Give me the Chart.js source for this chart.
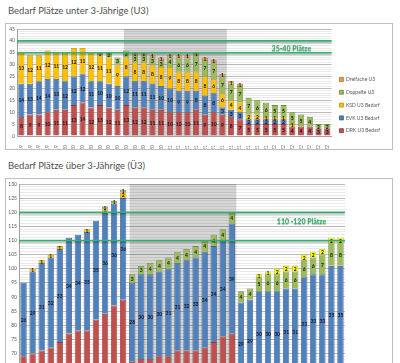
<!DOCTYPE html>
<html>
<head>
<meta charset="utf-8">
<script src="https://cdn.jsdelivr.net/npm/chart.js@4.4.0/dist/chart.umd.min.js"></script>
<style>
html, body { margin: 0; padding: 0; background: #fff; width: 400px; height: 363px; overflow: hidden; font-family: Lato, "Liberation Sans", sans-serif; }
.title { position: absolute; left: 8px; font-size: 9.5px; color: #505050; white-space: nowrap; }
.box { position: absolute; left: 5px; width: 388px; border: 1px solid #bfbfbf; box-sizing: border-box; background: #fff; }
.box canvas { display: block; }
</style>
</head>
<body>
<div class="title" style="top:5px">Bedarf Plätze unter 3-Jährige (U3)</div>
<div class="box" style="top:23px;height:127px"><canvas id="u3" width="386" height="125"></canvas></div>
<div class="title" style="top:160px">Bedarf Plätze über 3-Jährige (Ü3)</div>
<div class="box" style="top:178px;height:400px"><canvas id="ue3" width="386" height="385"></canvas></div>
<script>
const months = ['Aug 19','Sep 19','Okt 19','Nov 19','Dez 19','Jan 20','Feb 20','Mrz 20','Apr 20','Mai 20','Jun 20','Jul 20',
    'Aug 20','Sep 20','Okt 20','Nov 20','Dez 20','Jan 21','Feb 21','Mrz 21','Apr 21','Mai 21','Jun 21','Jul 21',
    'Aug 21','Sep 21','Okt 21','Nov 21','Dez 21','Jan 22','Feb 22','Mrz 22','Apr 22','Mai 22','Jun 22','Jul 22'];

// U3
const u3Drk      = [8,9,9,10,11,11,13,14,12,13,12,11, 13,12,12,11,11,10,10,10,11,9,10,9, 8,7,5,5,5,5,5,4,4,4,3,3];
const u3Evk      = [14,13,14,14,13,12,12,12,11,10,10,10, 12,11,11,11,10,10,9,9,8,8,8,3, 3,3,2,2,2,2,2,0,0,0,0,0];
const u3Ksd      = [13,12,11,12,11,12,12,11,12,11,11,9, 8,8,8,8,8,9,8,8,8,8,6,6, 4,4,2,2,1,1,1,1,0,0,0,0];
const u3Doppelt  = [0,0,0,0,0,0,0,0,0,1,2,3, 3,3,3,3,3,4,6,6,7,7,7,7, 7,7,7,6,6,5,5,5,5,4,2,2];
const u3Dreifach = [0,0,0,0,0,0,0,0,0,0,0,0, 0,1,1,1,1,1,1,1,1,1,1,1, 1,1,0,0,0,0,0,0,0,0,0,0];
const u3Ticks = [0,5,10,15,20,25,30,35,40,45];

// Ü3
const ue3Drk      = [69,70,71,72,74,77,78,78,82,84,87,89, 67,68,68,69,69,71,71,71,72,74,76,77, 59,60,62,62,62,62,62,64,65,65,66,66];
const ue3Evk      = [26,29,31,32,33,34,34,35,35,36,36,36, 28,30,30,30,31,31,32,33,34,34,34,39, 29,29,30,30,30,31,31,33,33,33,35,35];
const ue3Ksd      = [0,1,1,1,1,0,0,1,0,1,0,2, 0,0,0,0,0,0,0,0,0,0,0,0, 0,0,0,0,0,0,0,0,0,0,0,0];
const ue3Doppelt  = [0,0,0,0,0,0,0,0,0,1,1,1, 3,3,4,4,4,4,4,4,4,4,4,4, 4,4,5,6,6,6,6,6,6,7,8,8];
const ue3Dreifach = [0,0,0,0,0,0,0,0,0,0,0,0, 0,0,0,0,0,0,0,0,0,0,0,0, 0,0,1,1,2,2,2,2,2,2,2,2];
const ue3Ticks = [70,75,80,85,90,95,100,105,110,115,120,125,130];

const font = 'Lato, "Liberation Sans", sans-serif';
const green = '#2fb36c';

function bars(label, data, color, border) {
    return { label: label, data: data, backgroundColor: color, borderColor: border, borderWidth: 0.8,
             categoryPercentage: 1, barPercentage: 0.7 };
}

// gray band, target lines and values inside the segments
const extrasPlugin = {
    id: 'extras',
    afterLayout(chart, args, opts) {
        // nudge the legend a little lower, like the Excel original
        if (chart.legend && opts.legendShift) {
            chart.legend.top += opts.legendShift;
            chart.legend.bottom += opts.legendShift;
        }
    },
    beforeDatasetsDraw(chart, args, opts) {
        const { ctx, chartArea: a, scales: { x } } = chart;
        const half = (x.getPixelForValue(1) - x.getPixelForValue(0)) / 2;
        const x0 = x.getPixelForValue(opts.from) - half + 2;
        const x1 = x.getPixelForValue(opts.to) + half;
        ctx.save();
        ctx.fillStyle = 'rgba(0,0,0,0.16)';
        ctx.fillRect(x0, a.top, x1 - x0, a.bottom - a.top);
        ctx.restore();
    },
    afterDatasetsDraw(chart, args, opts) {
        const { ctx, chartArea: a, scales: { x, y } } = chart;
        ctx.save();
        ctx.font = 'bold 5px ' + font;
        ctx.fillStyle = '#16161f';
        ctx.textAlign = 'center';
        ctx.textBaseline = 'middle';
        chart.data.datasets.forEach((ds, i) => {
            chart.getDatasetMeta(i).data.forEach((bar, j) => {
                const v = ds.data[j];
                if (!v) return;
                const p = bar.getProps(['x', 'y', 'base'], true);
                ctx.fillText(v, p.x, (p.y + p.base) / 2 + 0.5);
            });
        });
        ctx.shadowColor = 'rgba(0,0,0,0.35)';
        ctx.shadowOffsetY = 1.5;
        ctx.shadowBlur = 1.5;
        ctx.strokeStyle = green;
        ctx.lineWidth = 1.6;
        opts.lines.forEach(v => {
            const py = y.getPixelForValue(v);
            ctx.beginPath();
            ctx.moveTo(a.left, py);
            ctx.lineTo(a.right, py);
            ctx.stroke();
        });
        ctx.shadowOffsetY = 0.8;
        ctx.shadowBlur = 1;
        ctx.font = 'bold 7px ' + font;
        ctx.fillStyle = green;
        ctx.fillText(opts.text, x.getPixelForValue(opts.textX), y.getPixelForValue(opts.textY));
        ctx.restore();
    }
};

function axes(min, max, ticks, yWidth) {
    return {
        x: {
            stacked: true,
            afterFit: s => { s.height = 13; },
            grid: { display: false },
            border: { color: '#a0a0a0' },
            ticks: { autoSkip: false, maxRotation: 90, minRotation: 90, padding: 1, color: '#6a6a6a', font: { size: 5, family: font } }
        },
        y: {
            stacked: true, min: min, max: max,
            afterFit: s => { s.width = yWidth; },
            border: { color: '#a0a0a0' },
            grid: { drawTicks: false, lineWidth: 0.8, color: c => c.tick.value % 5 === 0 ? '#a8a8a8' : '#e4e4e4' },
            ticks: { stepSize: 1, autoSkip: false, padding: 2, color: '#595959', font: { size: 5, family: font },
                     callback: v => ticks.includes(v) ? v : '' }
        }
    };
}

new Chart(document.getElementById('u3'), {
    type: 'bar',
    data: {
        labels: months,
        datasets: [
            bars('DRK U3 Bedarf', u3Drk, '#c0504d', '#8c3836'),
            bars('EVK U3 Bedarf', u3Evk, '#4f81bd', '#385d8a'),
            bars('KSD U3 Bedarf', u3Ksd, '#ffc000', '#bf9000'),
            bars('Doppelte U3', u3Doppelt, '#9bbb59', '#71893f'),
            bars('Dreifache U3', u3Dreifach, '#f79646', '#b66d31')
        ]
    },
    options: {
        responsive: false,
        animation: false,
        layout: { padding: { top: 2, right: 2, left: 0, bottom: 0 } },
        scales: axes(0, 45, u3Ticks, 11),
        plugins: {
            legend: { position: 'right', align: 'end', fullSize: false, reverse: true,
                      labels: { boxWidth: 4, boxHeight: 4, padding: 7.8, color: '#595959', font: { size: 5, family: font } } },
            tooltip: { enabled: false },
            extras: { from: 12, to: 23, lines: [35, 40], text: '35-40 Plätze', textX: 30.9, textY: 36.8, legendShift: 5 }
        }
    },
    plugins: [extrasPlugin]
});

new Chart(document.getElementById('ue3'), {
    type: 'bar',
    data: {
        labels: months,
        datasets: [
            bars('DRK Ü3 Bedarf', ue3Drk, '#c0504d', '#8c3836'),
            bars('EVK Ü3 Bedarf', ue3Evk, '#4f81bd', '#385d8a'),
            bars('KSD Ü3 Bedarf', ue3Ksd, '#ffc000', '#bf9000'),
            bars('Doppelte Ü3', ue3Doppelt, '#9bbb59', '#71893f'),
            bars('Dreifache Ü3', ue3Dreifach, '#ffff00', '#bfbf00')
        ]
    },
    options: {
        responsive: false,
        animation: false,
        layout: { padding: { top: 3, right: 47, left: 0, bottom: 0 } },
        scales: axes(0, 130, ue3Ticks, 13),
        plugins: {
            legend: { display: false },
            tooltip: { enabled: false },
            extras: { from: 12, to: 23, lines: [110, 120], text: '110 -120 Plätze', textX: 30.7, textY: 116.5 }
        }
    },
    plugins: [extrasPlugin]
});
</script>
</body>
</html>
